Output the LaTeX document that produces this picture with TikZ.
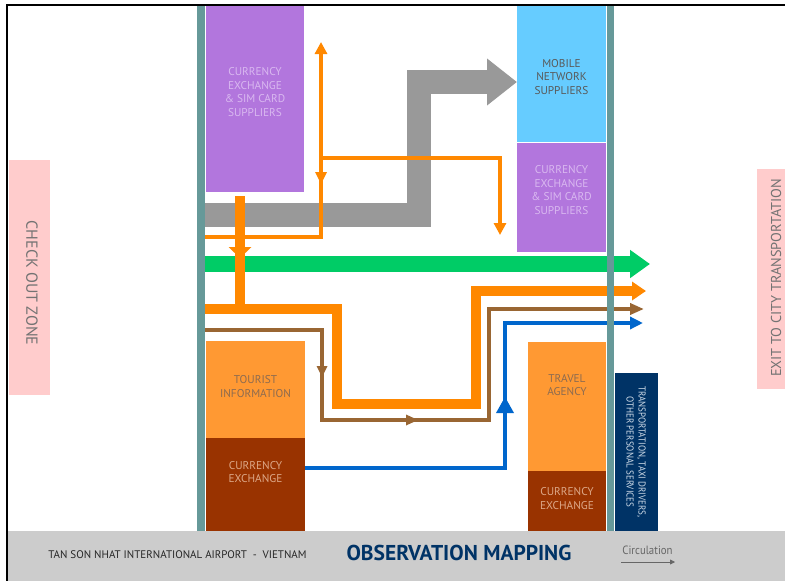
\documentclass[tikz,border=0pt]{standalone}
\usepackage{fontspec}
\setmainfont{PT Sans}
\newfontfamily\narrowfont[FakeStretch=0.9]{PT Sans}
\usetikzlibrary{arrows.meta}
\definecolor{wallc}{HTML}{669999}
\definecolor{purplec}{HTML}{B276DD}
\definecolor{purpletxt}{HTML}{D9B8F0}
\definecolor{bluebox}{HTML}{66CCFF}
\definecolor{grayarr}{HTML}{999999}
\definecolor{greenc}{HTML}{00CC66}
\definecolor{orangec}{HTML}{FF8800}
\definecolor{lorange}{HTML}{FF9933}
\definecolor{tourtxt}{HTML}{8C6B50}
\definecolor{brownbox}{HTML}{993300}
\definecolor{cxtxt}{HTML}{DDA888}
\definecolor{brownc}{HTML}{996633}
\definecolor{bluec}{HTML}{0066CC}
\definecolor{navyc}{HTML}{003366}
\definecolor{navytxt}{HTML}{D0DCE8}
\definecolor{pinkc}{HTML}{FFCCCC}
\definecolor{bandc}{HTML}{CCCCCC}
\begin{document}
\begin{tikzpicture}[x=1pt,y=-1pt,
  box/.style={draw=none,inner sep=0pt,outer sep=0pt},
  lbl/.style={inner sep=0pt,align=center,font=\fontsize{11.3}{13.4}\selectfont},
  grayflow/.style={draw=grayarr,line width=24pt,line join=miter,-{Triangle[length=30pt,width=45pt]}},
  greenflow/.style={draw=greenc,line width=16pt,-{Triangle[length=20pt,width=27pt]}},
  thickorange/.style={draw=orangec,line width=9.5pt,line join=miter,-{Triangle[length=14pt,width=18pt]}},
  thinorange/.style={draw=orangec,line width=3.5pt,line join=miter,-{Triangle[length=12pt,width=12pt]}},
  brownflow/.style={draw=brownc,line width=3.5pt,line join=miter,-{Triangle[length=14pt,width=11pt]}},
  blueflow/.style={draw=bluec,line width=4.5pt,line join=miter,-{Triangle[length=13pt,width=12pt]}},
]
\useasboundingbox (0,0) rectangle (785,581);
\fill[white] (0,0) rectangle (785,581);

% bottom band
\node[box,fill=bandc,minimum width=777pt,minimum height=50pt] (band) at (396.5,556) {};

% boxes
\node[box,fill=purplec,minimum width=98pt,minimum height=188pt] (purpleA) at (255,98) {};
\node[box,fill=bluebox,minimum width=89pt,minimum height=138pt] (mobile) at (561.5,73) {};
\node[box,fill=purplec,minimum width=89pt,minimum height=109pt] (purpleB) at (561.5,197.5) {};
\node[box,fill=lorange,minimum width=99pt,minimum height=97pt] (tourist) at (255.5,389.5) {};
\node[box,fill=brownbox,minimum width=99pt,minimum height=93pt] (cxA) at (255.5,484.5) {};
\node[box,fill=lorange,minimum width=78pt,minimum height=129pt] (travel) at (567,406.5) {};
\node[box,fill=brownbox,minimum width=78pt,minimum height=60pt] (cxB) at (567,501) {};
\node[box,fill=navyc,minimum width=43pt,minimum height=158pt] (navy) at (636.5,452) {};
\node[box,fill=pinkc,minimum width=41pt,minimum height=235pt] (checkout) at (29.5,277.5) {};
\node[box,fill=pinkc,minimum width=28pt,minimum height=220pt] (exit) at (771,279) {};

% labels
\node[lbl,text=purpletxt] (tA) at (255,92) {CURRENCY\\EXCHANGE\\\& SIM CARD\\SUPPLIERS};
\node[lbl,text=black!65] (tM) at (561.5,77) {MOBILE\\NETWORK\\SUPPLIERS};
\node[lbl,text=purpletxt] (tB) at (561.5,190) {CURRENCY\\EXCHANGE\\\& SIM CARD\\SUPPLIERS};
\node[lbl,text=tourtxt] (tT) at (255.5,386.5) {TOURIST\\INFORMATION};
\node[lbl,text=cxtxt] (tCA) at (255.5,472) {CURRENCY\\EXCHANGE};
\node[lbl,text=tourtxt] (tTr) at (567,385) {TRAVEL\\AGENCY};
\node[lbl,text=cxtxt] (tCB) at (567,498.5) {CURRENCY\\EXCHANGE};
\node[inner sep=0pt,align=center,text=navytxt,rotate=-90,font=\narrowfont\fontsize{10}{12}\selectfont] (tN) at (636,452) {TRANSPORTATION, TAXI DRIVERS,\\OTHER PERSONAL SERVICES};
\node[inner sep=0pt,text=black!55,rotate=-90,font=\fontsize{16}{18}\selectfont] (tCO) at (32,283) {CHECK OUT ZONE};
\node[inner sep=0pt,text=black!55,rotate=90,font=\fontsize{14.3}{16}\selectfont] (tEX) at (776,278) {EXIT TO CITY TRANSPORTATION};

% flow coordinates
\coordinate (g0) at (205,215);
\coordinate (g1) at (419,82);
\coordinate (g2) at (mobile.west |- g1);
\coordinate (gr0) at (205,264);
\coordinate (gr1) at (650,264);
\coordinate (o0) at (205,309);
\coordinate (o1) at (337,404);
\coordinate (o2) at (476,291);
\coordinate (o3) at (646,291);
\coordinate (ov0) at (240,196);
\coordinate (ov1) at (240,314);
\coordinate (t0) at (204,237);
\coordinate (t1) at (321,42);
\coordinate (t2) at (321,158);
\coordinate (t3) at (500,235);
\coordinate (b0) at (205,330);
\coordinate (b1) at (322,420);
\coordinate (b2) at (489,309);
\coordinate (b3) at (644,309);
\coordinate (yb) at (0,468);
\coordinate (u0) at (cxA.east |- yb);
\coordinate (u1) at (505,323);
\coordinate (u2) at (643,323);

% flows
\draw[grayflow] (g0) -| (g1) -- (g2);
\draw[greenflow] (gr0) -- (gr1);
\draw[draw=orangec,line width=9.5pt] (ov0) -- (ov1);
\draw[draw=orangec,line width=0pt,-{Triangle[length=11pt,width=23pt]}] (240,246) -- (240,258);
\draw[thickorange] (o0) -| (o1) -| (o2) -- (o3);
\draw[thinorange] (t0) -| (t1);
\draw[draw=orangec,line width=0pt,-{Triangle[length=12pt,width=12pt]}] (321,172) -- (321,184);
\draw[thinorange] (t2) -| (t3);
\draw[brownflow] (b0) -| (b1) -| (b2) -- (b3);
\draw[draw=brownc,line width=0pt,-{Triangle[length=11pt,width=11pt]}] (322,366) -- (322,377);
\draw[draw=brownc,line width=0pt,-{Triangle[length=12pt,width=11pt]}] (406,420) -- (418,420);
\draw[blueflow] (u0) -| (u1) -- (u2);
\draw[draw=bluec,line width=0pt,-{Triangle[length=16pt,width=18pt]}] (505,414) -- (505,397);

% walls
\node[box,fill=wallc,minimum width=8pt,minimum height=527pt] (wallL) at (201,267.5) {};
\node[box,fill=wallc,minimum width=7pt,minimum height=527pt] (wallR) at (610.5,267.5) {};

% frame
\draw[line width=1.6pt] (7.2,581) -- (7.2,4.7) -- (785,4.7);

% footer
\node[inner sep=0pt,text=black!85,font=\fontsize{11}{13}\selectfont] (ftL) at (177.5,555) {TAN SON NHAT INTERNATIONAL AIRPORT\ \ -\ \ VIETNAM};
\node[inner sep=0pt,text=navyc,font=\bfseries\fontsize{21.5}{24}\selectfont] (title) at (459,553) {OBSERVATION MAPPING};
\node[inner sep=0pt,text=black!60,font=\narrowfont\fontsize{12}{14}\selectfont] (circ) at (647.5,550) {Circulation};
\coordinate (c0) at (621,562);
\coordinate (c1) at (675,562);
\draw[draw=black!60,line width=0.8pt,-{Triangle[length=5pt,width=5pt]}] (c0) -- (c1);
\end{tikzpicture}
\end{document}
